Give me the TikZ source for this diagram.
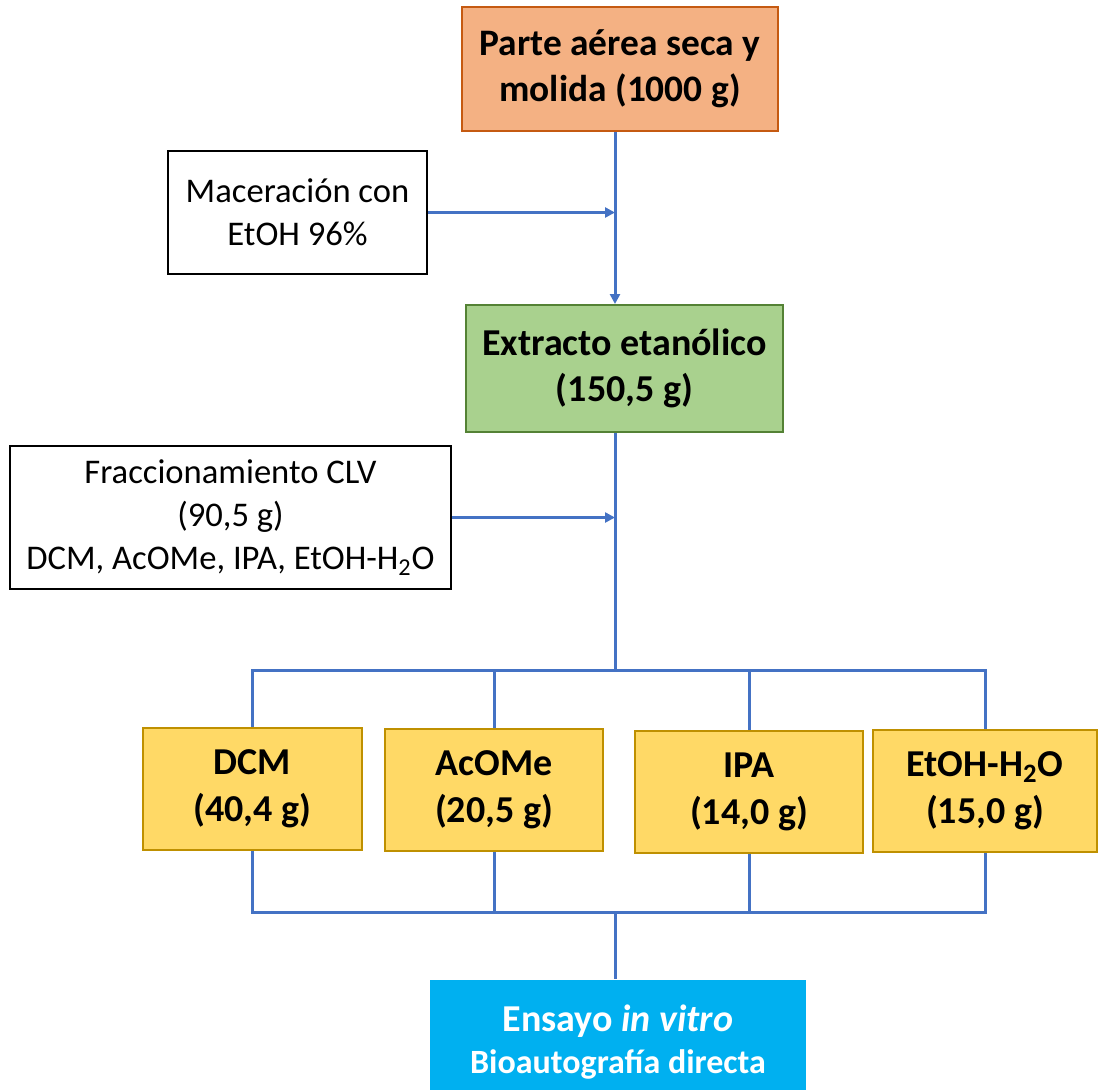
\documentclass[tikz,border=0pt]{standalone}
\usepackage{fontspec}
\setmainfont{Carlito}
\usepackage{tikz}
\usetikzlibrary{positioning, arrows.meta, calc}

\definecolor{orangefill}{HTML}{F4B183}
\definecolor{orangeline}{HTML}{C55A11}
\definecolor{greenfill}{HTML}{A9D18E}
\definecolor{greenline}{HTML}{548235}
\definecolor{yellowfill}{HTML}{FFD966}
\definecolor{yellowline}{HTML}{BF9000}
\definecolor{flowblue}{HTML}{4472C4}
\definecolor{assayblue}{HTML}{00B0F0}

\begin{document}
\begin{tikzpicture}[x=0.5pt, y=-0.5pt,
        box/.style={draw, line width=1pt, inner sep=0pt, align=center},
        stepbox/.style={box, black, fill=white, text=black,
            font=\fontsize{17.3}{21.5}\selectfont},
        fracbox/.style={box, draw=yellowline, fill=yellowfill,
            minimum height=61pt, font=\bfseries\fontsize{19}{23.5}\selectfont},
        flow/.style={flowblue, line width=1.5pt},
        flowarrow/.style={flow, -{Triangle[length=5pt, width=5pt]}}
    ]
        \useasboundingbox (0,0) rectangle (1098,1089);

        % main boxes
        \node[box, draw=orangeline, fill=orangefill, minimum width=158pt, minimum height=62pt,
            font=\bfseries\fontsize{18.7}{23}\selectfont] (plant) at (620,69)
            {Parte aérea seca y\\molida (1000 g)};
        \node[box, draw=greenline, fill=greenfill, minimum width=158.5pt, minimum height=63.5pt,
            font=\bfseries\fontsize{19}{23}\selectfont] (extract) at (624.5,368.5)
            {Extracto etanólico\\(150,5 g)};

        % process steps
        \node[stepbox, minimum width=129.5pt, minimum height=61.5pt] (maceration) at (297.5,212.5)
            {Maceración con\\EtOH 96\%};
        \node[stepbox, minimum width=220.5pt, minimum height=71.5pt] (fractionation) at (230.5,517.5)
            {Fraccionamiento CLV\\(90,5 g)\\DCM, AcOMe, IPA, EtOH-H\textsubscript{2}O};

        % fractions
        \node[fracbox, minimum width=109.5pt] (dcm) at (252.5,788.5) {DCM\\(40,4 g)};
        \node[fracbox, minimum width=109pt] (acome) at (494,790) {AcOMe\\(20,5 g)};
        \node[fracbox, minimum width=114pt] (ipa) at (749,791.5) {IPA\\(14,0 g)};
        \node[fracbox, minimum width=112pt] (water) at (985,791) {EtOH-H\textsubscript{2}O\\(15,0 g)};

        % assay
        \node[box, draw=none, fill=assayblue, text=white, minimum width=188pt, minimum height=62pt]
            (assay) at (618,1042)
            {{\bfseries\fontsize{19}{23}\selectfont Ensayo \textit{in vitro}}\\[5pt]
             {\bfseries\fontsize{17}{21}\selectfont Bioautografía directa}};

        \coordinate (trunk) at (615,212);
        \coordinate (split) at (615,670);
        \coordinate (merge) at (615,912);

        % main line
        \draw[flowarrow] (plant.south -| trunk) -- (extract.north -| trunk);
        \draw[flowarrow] (maceration.east) -- (maceration.east -| trunk);
        \draw[flow] (extract.south -| trunk) -- (split);
        \draw[flowarrow] (fractionation.east) -- (fractionation.east -| trunk);

        % split into fractions
        \draw[flow] (dcm.north) |- (water.north |- split) -- (water.north);
        \foreach \frac in {acome,ipa}
        {
            \draw[flow] (\frac.north) -- (\frac.north |- split);
        }

        % merge fractions
        \draw[flow] (dcm.south) |- (water.south |- merge) -- (water.south);
        \foreach \frac in {acome,ipa}
        {
            \draw[flow] (\frac.south) -- (\frac.south |- merge);
        }
        \draw[flow] (merge) -- (assay.north -| merge);
    \end{tikzpicture}
\end{document}
